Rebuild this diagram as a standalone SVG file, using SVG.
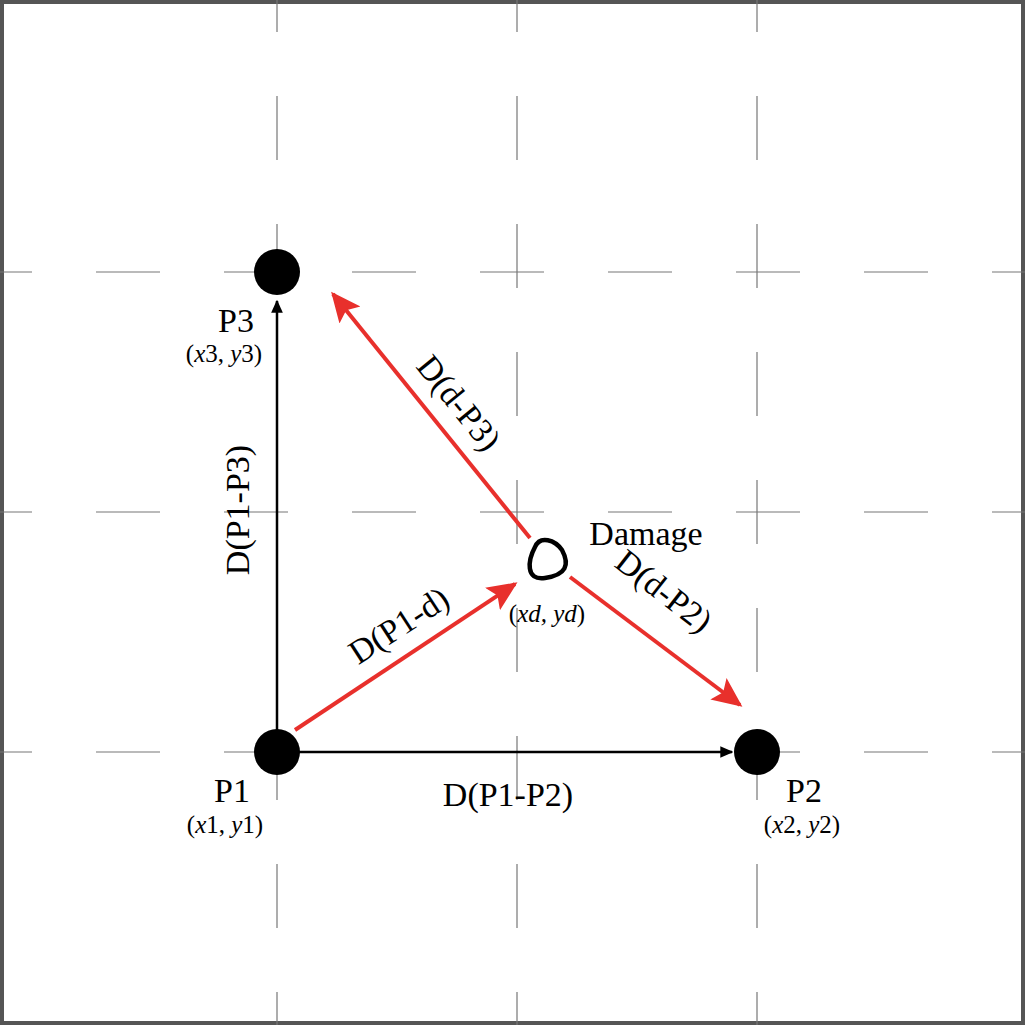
<svg xmlns="http://www.w3.org/2000/svg" width="1025" height="1025" viewBox="0 0 1025 1025">
<style>
.g{stroke:#777;stroke-width:1.2;stroke-dasharray:64 64;stroke-dashoffset:32;fill:none}
.t{font-family:"Liberation Serif",serif;fill:#000;font-size:34px}
.c{font-size:25px}
.i{font-style:italic}
</style>
<defs>
<marker id="ab" viewBox="0 0 10 10" refX="9" refY="5" markerWidth="13" markerHeight="13" markerUnits="userSpaceOnUse" orient="auto"><path d="M0,0.5L10,5L0,9.5Z" fill="#000"/></marker>
<marker id="ar2" viewBox="0 0 10 10" refX="9" refY="5" markerWidth="30" markerHeight="30" markerUnits="userSpaceOnUse" orient="auto"><path d="M0,0.5L10,5L0,9.5L2,5Z" fill="#e8302c"/></marker>
</defs>
<rect x="2" y="2" width="1021" height="1021" fill="#fff" stroke="#555" stroke-width="4"/>
<g id="grid">
<line class="g" x1="277" y1="0" x2="277" y2="1025"/>
<line class="g" x1="517" y1="0" x2="517" y2="1025"/>
<line class="g" x1="757" y1="0" x2="757" y2="1025"/>
<line class="g" x1="0" y1="272" x2="1025" y2="272"/>
<line class="g" x1="0" y1="512" x2="1025" y2="512"/>
<line class="g" x1="0" y1="752" x2="1025" y2="752"/>
</g>
<g id="connectors">
<line x1="277" y1="752" x2="277" y2="301" stroke="#000" stroke-width="2.5" marker-end="url(#ab)"/>
<line x1="277" y1="752" x2="732" y2="752" stroke="#000" stroke-width="2.5" marker-end="url(#ab)"/>
<line x1="295" y1="730" x2="515" y2="584" stroke="#e8302c" stroke-width="4" marker-end="url(#ar2)"/>
<line x1="530" y1="538" x2="333" y2="294" stroke="#e8302c" stroke-width="4" marker-end="url(#ar2)"/>
<line x1="570" y1="577" x2="740" y2="705" stroke="#e8302c" stroke-width="4" marker-end="url(#ar2)"/>
<text class="t" transform="translate(249,510) rotate(-90)" text-anchor="middle">D(P1-P3)</text>
<text class="t" x="508" y="806" text-anchor="middle">D(P1-P2)</text>
<text class="t" transform="translate(405,635) rotate(-33)" text-anchor="middle">D(P1-d)</text>
<text class="t" transform="translate(450,410) rotate(51)" text-anchor="middle">D(d-P3)</text>
<text class="t" transform="translate(657,600) rotate(38)" text-anchor="middle">D(d-P2)</text>
</g>
<g id="P1"><circle cx="277" cy="752" r="23" fill="#000"/>
<text class="t" x="232" y="802" text-anchor="middle">P1</text>
<text class="t c" x="225" y="833" text-anchor="middle">(<tspan class="i">x</tspan>1, <tspan class="i">y</tspan>1)</text></g>
<g id="P2"><circle cx="757" cy="752" r="23" fill="#000"/>
<text class="t" x="804" y="802" text-anchor="middle">P2</text>
<text class="t c" x="802" y="833" text-anchor="middle">(<tspan class="i">x</tspan>2, <tspan class="i">y</tspan>2)</text></g>
<g id="P3"><circle cx="277" cy="272" r="23" fill="#000"/>
<text class="t" x="236" y="332" text-anchor="middle">P3</text>
<text class="t c" x="224" y="362" text-anchor="middle">(<tspan class="i">x</tspan>3, <tspan class="i">y</tspan>3)</text></g>
<g id="damage"><path d="M535,547 C540,535 555,540 562,550 C570,565 566,575 545,578 C525,581 528,560 535,547Z" fill="#fff" stroke="#000" stroke-width="4.5"/>
<text class="t" x="646" y="545" text-anchor="middle">Damage</text>
<text class="t c" x="547" y="622" text-anchor="middle">(<tspan class="i">xd, yd</tspan>)</text></g>
</svg>
